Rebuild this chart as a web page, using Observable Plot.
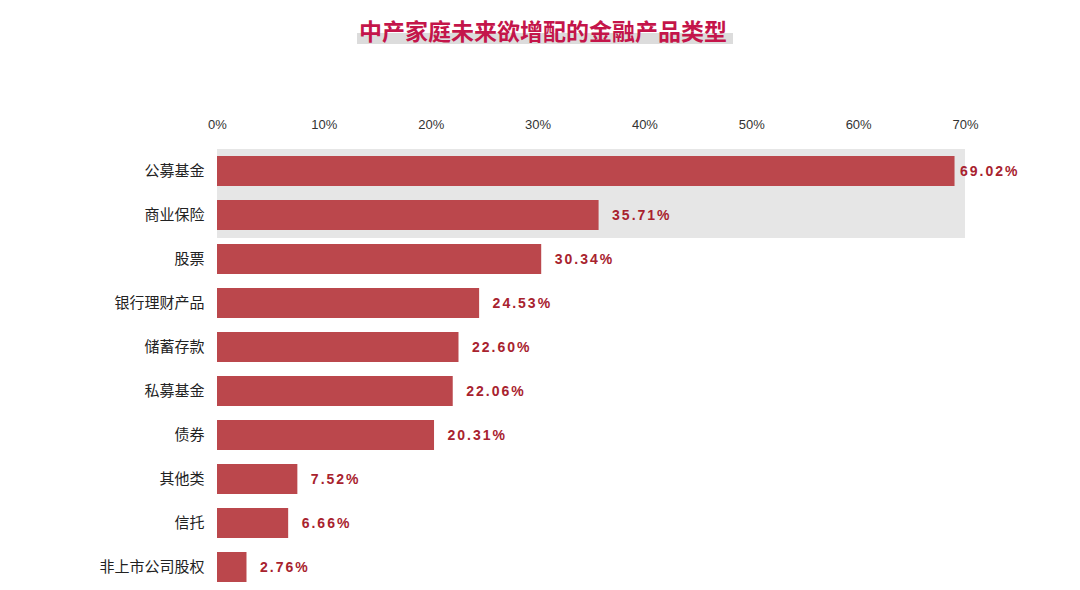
<!DOCTYPE html>
<html>
<head>
<meta charset="utf-8">
<script src="https://cdn.jsdelivr.net/npm/d3@7"></script>
<script src="https://cdn.jsdelivr.net/npm/@observablehq/plot@0.6"></script>
<style>
  html, body { margin: 0; padding: 0; background: #fff; overflow: hidden; }
  #title { height: 55px; width: 1080px; text-align: center; box-sizing: border-box; padding-top: 16px; padding-left: 10px; }
  #title span {
    font-family: "Noto Sans CJK SC", sans-serif; font-weight: 700; font-size: 23px;
    color: #c4154a; padding: 0 6px 0 2px; line-height: 29px;
    background: linear-gradient(to bottom, transparent 58%, #dcdcdc 58%, #dcdcdc 92%, transparent 92%);
  }
  #chart svg { display: block; }
  .vlabel text { letter-spacing: 2px; }
</style>
</head>
<body>
<div id="title"><span>中产家庭未来欲增配的金融产品类型</span></div>
<div id="chart"></div>
<script>
const categories = ["公募基金", "商业保险", "股票", "银行理财产品", "储蓄存款", "私募基金", "债券", "其他类", "信托", "非上市公司股权"];
const values = [69.02, 35.71, 30.34, 24.53, 22.60, 22.06, 20.31, 7.52, 6.66, 2.76];
const highlighted = ["公募基金", "商业保险"];
const xTicks = [0, 10, 20, 30, 40, 50, 60, 70];

const data = categories.map((c, i) => ({category: c, value: values[i]}));

const chart = Plot.plot({
  width: 1080,
  height: 535,
  marginTop: 92,
  marginBottom: 0,
  marginLeft: 217,
  marginRight: 115,
  x: {domain: [0, 70], axis: null},
  y: {domain: categories, paddingInner: 0.32, paddingOuter: 0.16, axis: null},
  marks: [
    Plot.barX(highlighted, {x1: 0, x2: 70, y: d => d, fill: "#e6e6e6", insetTop: -7, insetBottom: -8}),
    Plot.barX(data, {x: "value", y: "category", fill: "#bb474c"}),
    Plot.axisX(xTicks, {anchor: "top", label: null, tickSize: 0, tickPadding: 19, tickFormat: d => d + "%",
      fontSize: 13, fill: "#333", fontFamily: "'Liberation Sans Narrow', 'Liberation Sans', sans-serif"}),
    Plot.axisY({anchor: "left", label: null, tickSize: 0, tickPadding: 13, fontSize: 15, fill: "#222",
      fontFamily: "'Noto Sans CJK SC', sans-serif"}),
    Plot.text(data.filter(d => d.value > 60), {x: "value", y: "category", text: d => d.value.toFixed(2) + "%",
      textAnchor: "start", dx: 5, fill: "#a8222e", fontWeight: "bold", fontSize: 14, className: "vlabel",
      fontFamily: "'Liberation Sans', sans-serif"}),
    Plot.text(data.filter(d => d.value <= 60), {x: "value", y: "category", text: d => d.value.toFixed(2) + "%",
      textAnchor: "start", dx: 13, fill: "#a8222e", fontWeight: "bold", fontSize: 14, className: "vlabel",
      fontFamily: "'Liberation Sans', sans-serif"})
  ]
});
document.getElementById("chart").appendChild(chart);
</script>
</body>
</html>
